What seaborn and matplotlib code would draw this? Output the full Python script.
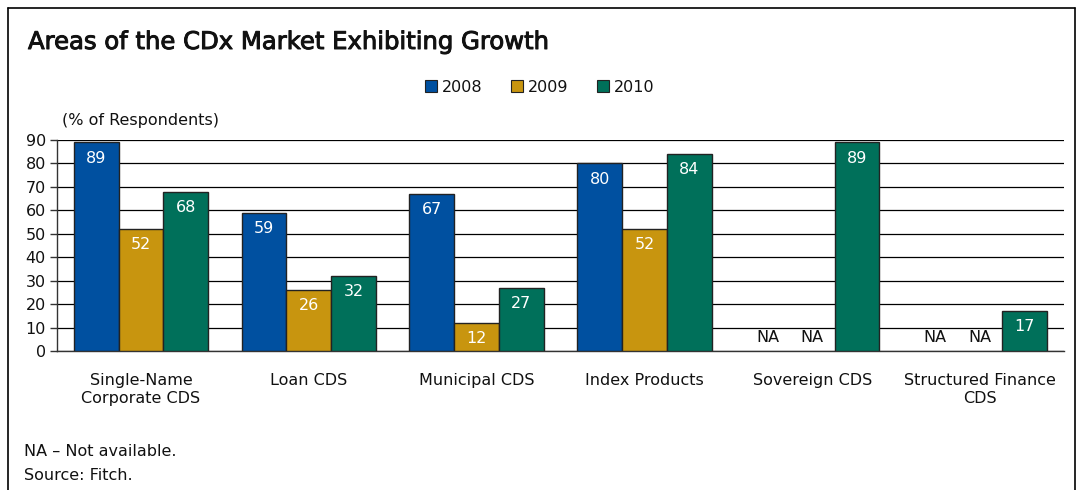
import matplotlib
matplotlib.use("Agg")
import matplotlib.pyplot as plt
import matplotlib.patheffects as pe
from matplotlib.lines import Line2D
from matplotlib.patches import Patch
import numpy as np
import pandas as pd
import seaborn as sns

categories = ["Single-Name\nCorporate CDS", "Loan CDS", "Municipal CDS",
              "Index Products", "Sovereign CDS", "Structured Finance\nCDS"]
years = ["2008", "2009", "2010"]
vals_2008 = [89, 59, 67, 80, np.nan, np.nan]
vals_2009 = [52, 26, 12, 52, np.nan, np.nan]
vals_2010 = [68, 32, 27, 84, 89, 17]
colors = ["#0050A0", "#C8950F", "#00705A"]

df = pd.DataFrame({
    "category": categories * 3,
    "year": [y for y in years for _ in categories],
    "value": vals_2008 + vals_2009 + vals_2010,
})

sns.set_theme(style="white")
plt.rcParams["font.family"] = ["DejaVu Sans"]

fig = plt.figure(figsize=(10.8, 4.9), dpi=100)
ax = fig.add_axes([57 / 1080, 1 - 351 / 490, (1064 - 57) / 1080, (351 - 140) / 490])

sns.barplot(data=df, x="category", y="value", hue="year", order=categories,
            hue_order=years, palette=colors, edgecolor="#222222", linewidth=1.0,
            saturation=1, width=0.8, legend=False, ax=ax, zorder=3)

ax.set_ylim(0, 90)
ax.set_xlim(-0.5, len(categories) - 0.5)
ax.set_yticks(range(0, 91, 10))
ax.yaxis.grid(True, color="black", linewidth=0.9)
ax.set_axisbelow(True)
for side in ["top", "right"]:
    ax.spines[side].set_visible(False)
for side in ["left", "bottom"]:
    ax.spines[side].set_color("#333333")
    ax.spines[side].set_linewidth(1.0)
ax.set_xlabel("")
ax.set_ylabel("")

# category labels on the major ticks, separator ticks between groups
ax.tick_params(axis="x", which="major", length=0, pad=16, labelsize=11.5, colors="#111111")
ax.set_xticks(np.arange(-0.5, len(categories) + 0.5, 1), minor=True)
ax.tick_params(axis="x", which="minor", length=5, width=1, color="#333333", direction="out")
ax.tick_params(axis="y", length=5, width=1, color="#333333", direction="out",
               labelsize=11.5, colors="#111111", pad=3, left=True)

# value labels inside the top of each bar
for cont in ax.containers:
    for patch in cont.patches:
        h = patch.get_height()
        if np.isfinite(h) and h > 0:
            ax.annotate(f"{h:.0f}", (patch.get_x() + patch.get_width() / 2, h),
                        xytext=(0, -6), textcoords="offset points",
                        ha="center", va="top", color="white", fontsize=11.5)

# NA markers for the missing years
n_hue = len(years)
step = 0.8 / n_hue
for j, series in enumerate([vals_2008, vals_2009, vals_2010]):
    for i, v in enumerate(series):
        if not np.isfinite(v):
            xpos = i - 0.4 + step * (j + 0.5)
            ax.annotate("NA", (xpos, 0), xytext=(0, 4), textcoords="offset points",
                        ha="center", va="bottom", color="#111111", fontsize=11.5)

# legend
handles = [Patch(facecolor=c, edgecolor="#222222", linewidth=0.8) for c in colors]
leg = fig.legend(handles, years, loc="center", bbox_to_anchor=(0.5, 1 - 87 / 490), ncol=3,
                 frameon=False, fontsize=11.5, handlelength=0.75, handleheight=0.75,
                 handletextpad=0.3, columnspacing=1.8)
for t in leg.get_texts():
    t.set_color("#111111")

fig.text(28 / 1080, 1 - 42 / 490, "Areas of the CDx Market Exhibiting Growth",
         fontsize=17.5, ha="left", va="center", color="#111111",
         path_effects=[pe.withStroke(linewidth=0.7, foreground="#111111")])
fig.text(62 / 1080, 1 - 120 / 490, "(% of Respondents)", fontsize=11.5,
         ha="left", va="center", color="#111111")
fig.text(24 / 1080, 1 - 451 / 490, "NA \u2013 Not available.", fontsize=11.5,
         ha="left", va="center", color="#111111")
fig.text(24 / 1080, 1 - 475 / 490, "Source: Fitch.", fontsize=11.5,
         ha="left", va="center", color="#111111")

# outer frame
frame_kw = dict(color="black", linewidth=1.2, transform=fig.transFigure)
fig.add_artist(Line2D([8 / 1080, 8 / 1080], [0, 1 - 8 / 490], **frame_kw))
fig.add_artist(Line2D([8 / 1080, 1075 / 1080], [1 - 8 / 490, 1 - 8 / 490], **frame_kw))
fig.add_artist(Line2D([1075 / 1080, 1075 / 1080], [0, 1 - 8 / 490], **frame_kw))

fig.savefig("out.png", dpi=100, facecolor="white")
